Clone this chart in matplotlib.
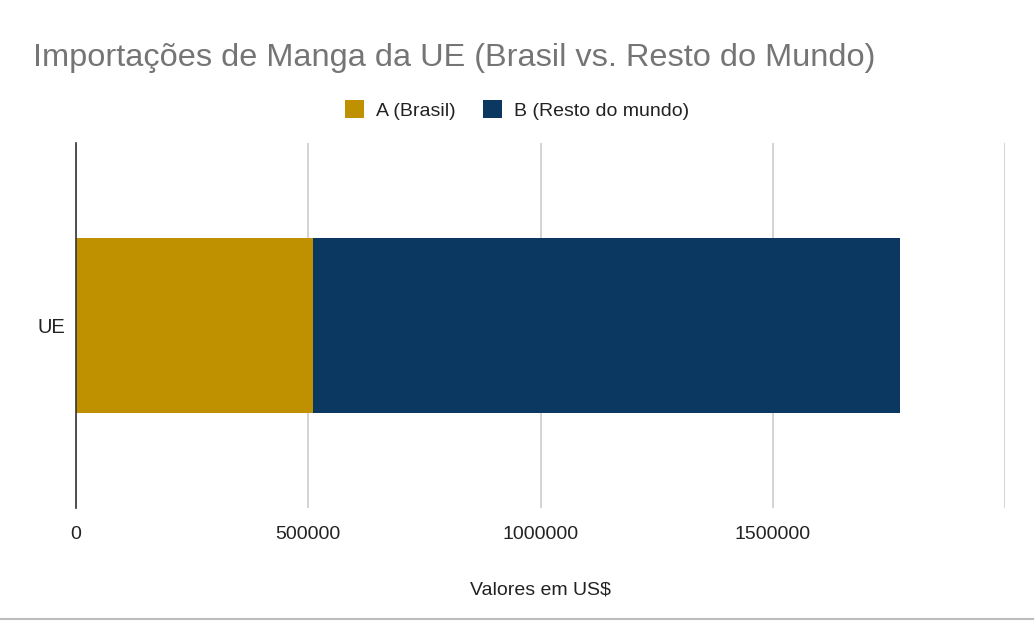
import matplotlib
matplotlib.use("Agg")
import matplotlib.pyplot as plt
from matplotlib.lines import Line2D

# values
categories = ["UE"]
brasil = [511000]
resto = [1263000]
series_names = ["A (Brasil)", "B (Resto do mundo)"]
xticks = [0, 500000, 1000000, 1500000, 2000000]
xtick_labels = ["0", "500000", "1000000", "1500000", ""]

plt.rcParams["font.family"] = ["Liberation Sans", "DejaVu Sans"]

fig = plt.figure(figsize=(10.34, 6.21), dpi=100)
ax = fig.add_axes([0.0735, 0.182, 0.8985, 0.588])

gold = "#bf9000"
navy = "#0b3861"
ax.barh(categories, brasil, height=0.48, color=gold, label=series_names[0], zorder=3)
ax.barh(categories, resto, left=brasil, height=0.48, color=navy, label=series_names[1], zorder=3)

ax.set_xlim(0, 2000000)
ax.set_ylim(-0.5, 0.5)
ax.set_xticks(xticks)
ax.set_xticklabels(xtick_labels, fontsize=14, color="#222222")
ax.tick_params(axis="x", length=0, pad=13)
ax.tick_params(axis="y", length=0, pad=8, labelsize=14.5, labelcolor="#222222")
ax.grid(axis="x", color="#cccccc", linewidth=1.2, zorder=0)
for s in ["top", "right", "bottom"]:
    ax.spines[s].set_visible(False)
ax.spines["left"].set_color("#333333")
ax.spines["left"].set_linewidth(1.2)
ax.spines["left"].set_zorder(4)

ax.set_xlabel("Valores em US$", fontsize=14, color="#222222", labelpad=28)

fig.text(0.032, 0.894, "Importações de Manga da UE (Brasil vs. Resto do Mundo)",
         fontsize=23.4, color="#757575", va="baseline", ha="left")

fig.legend(loc="center", bbox_to_anchor=(0.500, 0.823), ncol=2, frameon=False,
           fontsize=14, handlelength=1.0, handleheight=1.0, handletextpad=0.6,
           columnspacing=1.4, labelcolor="#222222")

fig.add_artist(Line2D([0, 1], [0.003, 0.003], color="#bbbbbb", linewidth=1.5))

fig.savefig("out.png", dpi=100)
